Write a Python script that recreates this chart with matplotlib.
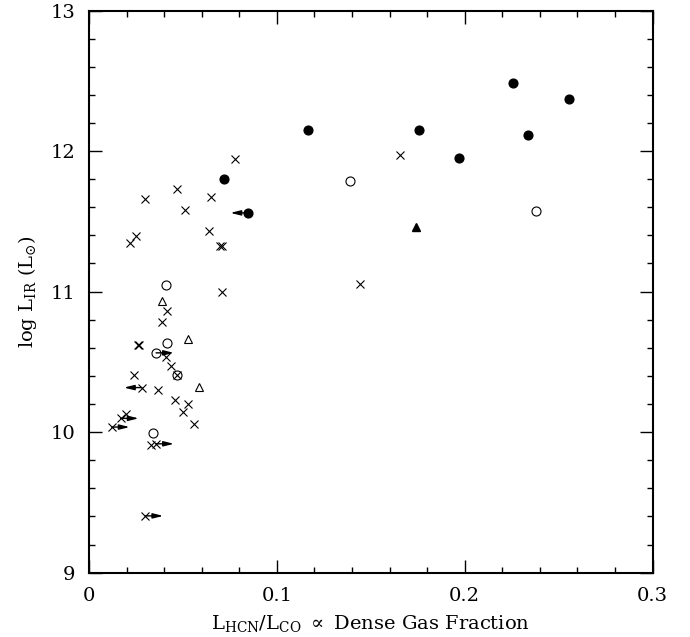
#!/usr/bin/env python3

import matplotlib.pyplot as plt
from matplotlib.ticker import MultipleLocator, FuncFormatter

plt.rcParams["font.family"] = "DejaVu Serif"
plt.rcParams["mathtext.fontset"] = "dejavuserif"

# filled circles
filled_x = [0.2256, 0.2556, 0.1168, 0.1755, 0.2338, 0.1968, 0.0719, 0.0848]
filled_y = [12.485, 12.371, 12.148, 12.153, 12.114, 11.950, 11.798, 11.56]

# open circles
open_x = [0.1388, 0.2377, 0.0410, 0.0417, 0.0357, 0.0339, 0.0467]
open_y = [11.786, 11.570, 11.044, 10.633, 10.564, 9.996, 10.407]

# open triangles
tri_x = [0.0389, 0.0527, 0.0587]
tri_y = [10.930, 10.664, 10.322]

# filled triangle
ftri_x = [0.1739]
ftri_y = [11.458]

# crosses
cross_x = [0.1443, 0.1656, 0.0779, 0.0650, 0.0639, 0.0697, 0.0707, 0.0469,
           0.0300, 0.0509, 0.0249, 0.0220, 0.0708, 0.0417, 0.0389, 0.0262,
           0.0268, 0.0410, 0.0435, 0.0240, 0.0281, 0.0369, 0.0460, 0.0529,
           0.0499, 0.0559, 0.0197, 0.0169, 0.0121, 0.0329, 0.0357, 0.0300,
           0.0467]
cross_y = [11.056, 11.971, 11.941, 11.672, 11.429, 11.327, 11.327, 11.729,
           11.658, 11.584, 11.399, 11.349, 10.994, 10.864, 10.785, 10.621,
           10.621, 10.538, 10.471, 10.405, 10.317, 10.298, 10.227, 10.198,
           10.141, 10.056, 10.127, 10.098, 10.036, 9.908, 9.917, 9.404,
           10.407]

# limits on the x value: (x, y, direction)
lim_x = [0.0848, 0.0357, 0.0281, 0.0169, 0.0121, 0.0357, 0.0300]
lim_y = [11.56, 10.564, 10.317, 10.098, 10.036, 9.917, 9.404]
lim_dir = [-1, 1, -1, 1, 1, 1, 1]

fig = plt.figure(figsize=(6.9, 6.37), dpi=100)
ax = fig.add_axes([0.129, 0.101, 0.8167, 0.8825])

ax.plot(cross_x, cross_y, "x", color="k", ms=5.5, mew=0.8, ls="none")
ax.plot(filled_x, filled_y, "o", color="k", ms=6.3, ls="none")
ax.plot(open_x, open_y, "o", mfc="none", mec="k", ms=6.5, mew=0.8, ls="none")
ax.plot(tri_x, tri_y, "^", mfc="none", mec="k", ms=6, mew=0.8, ls="none")
ax.plot(ftri_x, ftri_y, "^", color="k", ms=6, ls="none")

arrow_len = 0.0095
for x, y, d in zip(lim_x, lim_y, lim_dir):
    ax.annotate(
        "",
        xy=(x + d * arrow_len, y),
        xytext=(x, y),
        arrowprops=dict(arrowstyle="-|>,head_length=0.6,head_width=0.15",
                        color="k", lw=1, shrinkA=0, shrinkB=0),
    )

ax.set_xlim(0, 0.3)
ax.set_ylim(9, 13)
ax.xaxis.set_major_locator(MultipleLocator(0.1))
ax.xaxis.set_minor_locator(MultipleLocator(0.02))
ax.yaxis.set_major_locator(MultipleLocator(1))
ax.yaxis.set_minor_locator(MultipleLocator(0.2))
ax.xaxis.set_major_formatter(FuncFormatter(lambda v, _: f"{round(v, 2):g}"))
ax.tick_params(which="both", direction="in", top=True, right=True,
               width=1, labelsize=14)
ax.tick_params(which="major", length=9.5, pad=10)
ax.tick_params(which="minor", length=4.5)
for s in ax.spines.values():
    s.set_linewidth(1.5)

ax.set_xlabel(r"$\mathrm{L_{HCN}/L_{CO}}\ \propto$ Dense Gas Fraction",
              fontsize=14, labelpad=6)
ax.set_ylabel(r"log $\mathrm{L_{IR}}$ ($\mathrm{L_{\odot}}$)", fontsize=14,
              labelpad=8)

fig.savefig("out.png", dpi=100)
